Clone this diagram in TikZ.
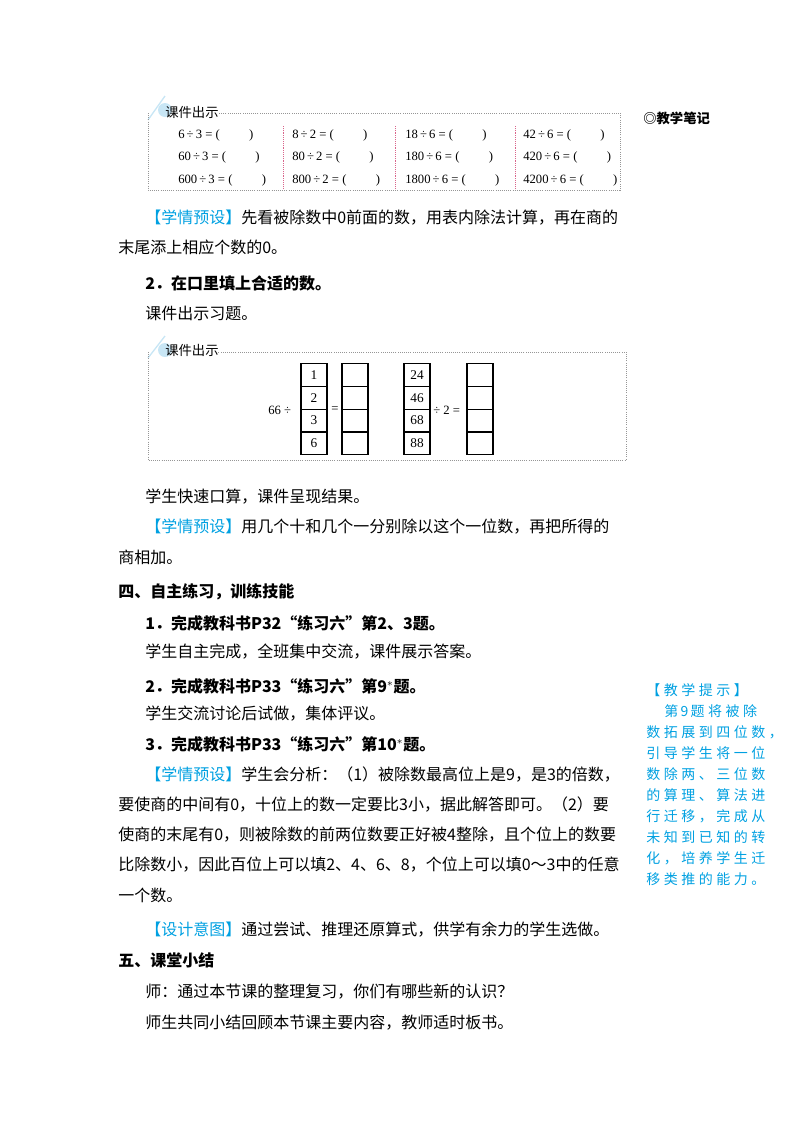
\documentclass[tikz,border=0pt]{standalone}
\usepackage{fontspec}
\setmainfont{Liberation Serif}
\newfontfamily\cjk{Noto Sans CJK SC}
\newfontfamily\cjksp{Noto Sans CJK SC}[LetterSpace=25]
\definecolor{tip}{RGB}{0,160,225}
\definecolor{boxc}{RGB}{150,150,150}
\definecolor{tab}{RGB}{200,230,245}
\begin{document}
\begin{tikzpicture}[x=0.75pt,y=-0.75pt,
  t/.style={anchor=west,inner sep=0pt,font=\cjk\fontsize{12}{12}\selectfont},
  h/.style={t,font=\cjk\bfseries\fontsize{12}{12}\selectfont},
  m/.style={anchor=west,inner sep=0pt,font=\fontsize{9.5}{9.5}\selectfont},
  side/.style={anchor=west,inner sep=0pt,text=tip,font=\cjksp\fontsize{10.5}{10.5}\selectfont},
  dbox/.style={draw=boxc,densely dotted,line width=0.6pt},
  cell/.style={draw,line width=0.8pt,minimum width=19.5pt,minimum height=17pt,inner sep=0pt,font=\fontsize{10}{10}\selectfont}]
\useasboundingbox (0,0) rectangle (800,1132);
% box 1
\draw[tab,line width=1pt] (148,120) -- (165,96);
\fill[tab] (165,110) circle (7);
\draw[dbox] (148,113) -- (148,190) -- (620,190) -- (620,113) -- (218,113);
\node[t,font=\cjk\fontsize{10}{10}\selectfont] (k1) at (165,112) {课件出示};
\foreach \x in {283,395,515} \draw[draw=purple!60,densely dotted] (\x,126) -- (\x,188);
\node[m] (a1) at (178,135) {6\,÷\,3 = (\hspace{22pt})};
\node[m] (a2) at (178,157) {60\,÷\,3 = (\hspace{22pt})};
\node[m] (a3) at (178,180) {600\,÷\,3 = (\hspace{22pt})};
\node[m] (b1) at (292,135) {8\,÷\,2 = (\hspace{22pt})};
\node[m] (b2) at (292,157) {80\,÷\,2 = (\hspace{22pt})};
\node[m] (b3) at (292,180) {800\,÷\,2 = (\hspace{22pt})};
\node[m] (c1) at (405,135) {18\,÷\,6 = (\hspace{22pt})};
\node[m] (c2) at (405,157) {180\,÷\,6 = (\hspace{22pt})};
\node[m] (c3) at (405,180) {1800\,÷\,6 = (\hspace{22pt})};
\node[m] (d1) at (523,135) {42\,÷\,6 = (\hspace{22pt})};
\node[m] (d2) at (523,157) {420\,÷\,6 = (\hspace{22pt})};
\node[m] (d3) at (523,180) {4200\,÷\,6 = (\hspace{22pt})};
\node[h,font=\cjk\bfseries\fontsize{10}{10}\selectfont] (note) at (643,118) {◎教学笔记};
% text
\node[t] (p1) at (145,218) {\textcolor{tip}{【学情预设】}先看被除数中0前面的数，用表内除法计算，再在商的};
\node[t] (p2) at (118,247) {末尾添上相应个数的0。};
\node[h] (p3) at (145,283) {2．在口里填上合适的数。};
\node[t] (p4) at (145,313) {课件出示习题。};
% box 2
\draw[tab,line width=1pt] (148,358) -- (165,336);
\fill[tab] (165,350) circle (7);
\draw[dbox] (148,352) -- (148,460) -- (626,460) -- (626,352) -- (218,352);
\node[t,font=\cjk\fontsize{10}{10}\selectfont] (k2) at (165,350) {课件出示};
\node[m] (e1) at (268,410) {66 ÷};
\foreach \c/\x/\l in {A/314/{1,2,3,6},B/355/{,,,},C/417/{24,46,68,88},D/480/{,,,}}{
  \foreach \v [count=\i] in \l {
    \node[cell] (\c\i) at (\x,352.5+22.7*\i) {\v};
  }
}
\node[m] (eq1) at (331,410) {=};
\node[m] (eq2) at (433,410) {÷ 2 =};
% text
\node[t] (q1) at (145,497) {学生快速口算，课件呈现结果。};
\node[t] (q2) at (145,527) {\textcolor{tip}{【学情预设】}用几个十和几个一分别除以这个一位数，再把所得的};
\node[t] (q3) at (118,557) {商相加。};
\node[h] (q4) at (118,592) {四、自主练习，训练技能};
\node[h] (q5) at (145,623) {1．完成教科书P32“练习六”第2、3题。};
\node[t] (q6) at (145,652) {学生自主完成，全班集中交流，课件展示答案。};
\node[h] (q7) at (145,686) {2．完成教科书P33“练习六”第9$^{*}$题。};
\node[t] (q8) at (145,714) {学生交流讨论后试做，集体评议。};
\node[h] (q9) at (145,744) {3．完成教科书P33“练习六”第10$^{*}$题。};
\node[t] (r1) at (145,774) {\textcolor{tip}{【学情预设】}学生会分析：（1）被除数最高位上是9，是3的倍数，};
\node[t] (r2) at (118,804) {要使商的中间有0，十位上的数一定要比3小，据此解答即可。（2）要};
\node[t] (r3) at (118,835) {使商的末尾有0，则被除数的前两位数要正好被4整除，且个位上的数要};
\node[t] (r4) at (118,865) {比除数小，因此百位上可以填2、4、6、8，个位上可以填0～3中的任意};
\node[t] (r5) at (118,895) {一个数。};
\node[t] (r6) at (145,930) {\textcolor{tip}{【设计意图】}通过尝试、推理还原算式，供学有余力的学生选做。};
\node[h] (r7) at (118,960) {五、课堂小结};
\node[t] (r8) at (145,992) {师：通过本节课的整理复习，你们有哪些新的认识？};
\node[t] (r9) at (145,1023) {师生共同小结回顾本节课主要内容，教师适时板书。};
% sidebar
\node[side] (s0) at (646,690) {【教学提示】};
\node[side] (s1) at (664,711) {第\,9\,题将被除};
\node[side] (s2) at (646,732) {数拓展到四位数，};
\node[side] (s3) at (646,753) {引导学生将一位};
\node[side] (s4) at (646,774) {数除两、三位数};
\node[side] (s5) at (646,795) {的算理、算法进};
\node[side] (s6) at (646,816) {行迁移，完成从};
\node[side] (s7) at (646,837) {未知到已知的转};
\node[side] (s8) at (646,858) {化，培养学生迁};
\node[side] (s9) at (646,879) {移类推的能力。};
\end{tikzpicture}
\end{document}
